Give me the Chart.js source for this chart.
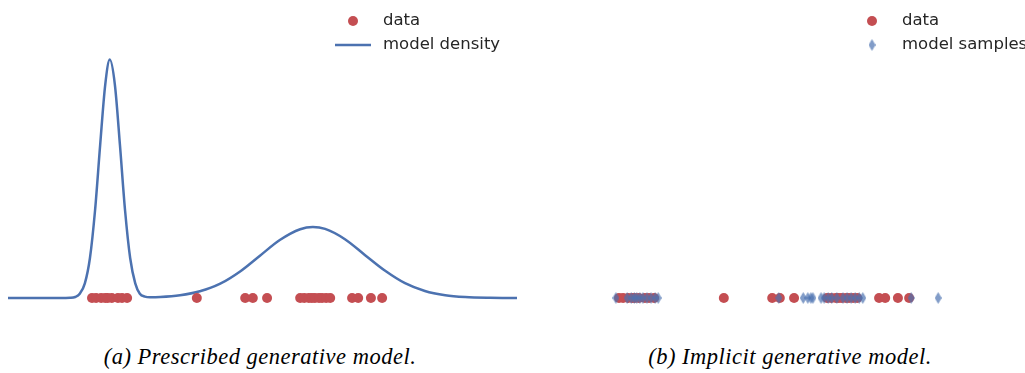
<!DOCTYPE html>
<html><head><meta charset="utf-8">
<script src="https://cdn.jsdelivr.net/npm/chart.js@4.4.1/dist/chart.umd.min.js"></script>
<style>
html,body{margin:0;padding:0;background:#fff;overflow:hidden;width:1025px;height:373px;position:relative;}
.panel{position:absolute;top:0;width:526px;height:330px;}
.cap{position:absolute;top:343px;line-height:28px;font-family:"Liberation Serif","DejaVu Serif",serif;font-style:italic;font-size:22.5px;letter-spacing:0.5px;color:#000;white-space:nowrap;transform:translateX(-50%);}
</style></head><body>
<div class="panel" style="left:0"><canvas id="c1" width="526" height="330"></canvas></div>
<div class="panel" style="left:527px"><canvas id="c2" width="526" height="330"></canvas></div>
<div class="cap" id="capA" style="left:260px"></div>
<div class="cap" id="capB" style="left:790px"></div>
<script>
// ---- data ----
const densityX = [0.00,0.63,1.02,1.22,1.32,1.41,1.51,1.61,1.71,1.81,1.91,2.00,2.10,2.20,2.30,2.40,2.50,2.59,2.69,2.79,2.99,3.38,3.77,4.17,4.56,4.95,5.34,5.74,5.99,6.23,6.62,7.01,7.41,7.80,8.19,8.59,8.98,9.47,10.00];
const densityY = [0,0,0,0.001,0.005,0.0215,0.0735,0.20,0.4375,0.763,1.066,1.192,1.066,0.763,0.4375,0.20,0.0735,0.0215,0.007,0.0035,0.0047,0.0135,0.0335,0.0715,0.1325,0.2115,0.29,0.344,0.355,0.3455,0.294,0.2155,0.136,0.074,0.035,0.014,0.005,0.0011,0];
const dataX = [1.65,1.73,1.83,1.91,1.96,2.04,2.16,2.24,2.34,3.71,4.66,4.81,5.09,5.74,5.82,5.91,5.97,6.03,6.11,6.17,6.25,6.33,6.76,6.88,7.13,7.35];
const sampleX = [1.59,1.81,1.89,1.95,2.00,2.06,2.12,2.20,2.28,2.36,2.42,4.79,5.27,5.36,5.42,5.46,5.62,5.68,5.76,5.83,5.93,6.05,6.13,6.21,6.29,6.37,6.44,7.39,7.92];
const legendA = ["data","model density"];
const legendB = ["data","model samples"];
const captions = ["(a) Prescribed generative model.","(b) Implicit generative model."];

// ---- styles ----
const RED = '#c44e52', BLUE = '#4c72b0', DIAMOND_FILL = 'rgba(76,114,176,0.7)';
document.getElementById('capA').textContent = captions[0];
document.getElementById('capB').textContent = captions[1];

function diamond(w,h,color){
  const c=document.createElement('canvas');c.width=w;c.height=h;
  const g=c.getContext('2d');g.fillStyle=color;g.beginPath();
  g.moveTo(w/2,0);g.lineTo(w,h/2);g.lineTo(w/2,h);g.lineTo(0,h/2);g.closePath();g.fill();
  return c;
}
const diamondImg = diamond(7,12,DIAMOND_FILL);

const legendPlugin = {
  id:'customLegend',
  afterDraw(chart, args, opts){
    const ctx = chart.ctx; ctx.save();
    ctx.font = '16.5px "DejaVu Sans"'; ctx.fillStyle = '#262626'; ctx.textBaseline='middle';
    opts.items.forEach((it,i)=>{
      const y = opts.ys[i];
      if(it.kind==='dot'){ ctx.beginPath(); ctx.fillStyle=RED; ctx.arc(opts.mx,y,5,0,Math.PI*2); ctx.fill(); }
      else if(it.kind==='line'){ ctx.beginPath(); ctx.strokeStyle=BLUE; ctx.lineWidth=2.5; ctx.moveTo(opts.mx-18,y); ctx.lineTo(opts.mx+18,y); ctx.stroke(); }
      else if(it.kind==='diamond'){ ctx.drawImage(diamondImg, opts.mx-3.5, y-6); }
      ctx.fillStyle='#262626'; ctx.fillText(it.label, opts.tx, y);
    });
    ctx.restore();
  }
};

const pts = (xs, ys) => xs.map((x,i)=>({x, y: ys ? ys[i] : 0}));

function baseOptions(legendOpts){
  return {
    responsive:false, animation:false,
    layout:{padding:{left:8,right:9,top:40,bottom:10}},
    scales:{
      x:{type:'linear',min:0,max:10,display:false},
      y:{type:'linear',min:-0.11,max:1.29,display:false}
    },
    plugins:{legend:{display:false},tooltip:{enabled:false},customLegend:legendOpts}
  };
}

new Chart(document.getElementById('c1'),{
  type:'scatter',
  data:{datasets:[
    {label:legendA[1],data:pts(densityX,densityY),showLine:true,borderColor:BLUE,borderWidth:2.5,pointRadius:0,cubicInterpolationMode:'monotone',order:1},
    {label:legendA[0],data:pts(dataX),backgroundColor:RED,borderWidth:0,pointRadius:5,order:0}
  ]},
  options:baseOptions({mx:353,tx:383,ys:[21,45],items:[{kind:'dot',label:legendA[0]},{kind:'line',label:legendA[1]}]}),
  plugins:[legendPlugin]
});

new Chart(document.getElementById('c2'),{
  type:'scatter',
  data:{datasets:[
    {label:legendB[0],data:pts(dataX),backgroundColor:RED,borderWidth:0,pointRadius:5,order:1},
    {label:legendB[1],data:pts(sampleX),pointStyle:diamondImg,pointRadius:6,order:0}
  ]},
  options:baseOptions({mx:345,tx:375,ys:[21,45],items:[{kind:'dot',label:legendB[0]},{kind:'diamond',label:legendB[1]}]}),
  plugins:[legendPlugin]
});
</script>
</body></html>
